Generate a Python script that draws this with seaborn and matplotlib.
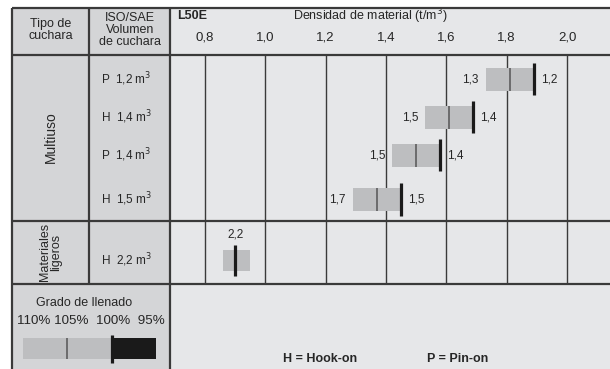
import matplotlib
matplotlib.use("Agg")
import matplotlib.pyplot as plt
import seaborn as sns
import pandas as pd
import numpy as np

# Data
buckets = ["P  1,2 m$^3$", "H  1,4 m$^3$", "P  1,4 m$^3$", "H  1,5 m$^3$", "H  2,2 m$^3$"]
dens_110 = [1.73, 1.53, 1.42, 1.29, 0.86]      # bar start (110 % fill)
dens_105 = [1.81, 1.61, 1.50, 1.37, np.nan]    # thin mark (105 % fill)
dens_100 = [1.89, 1.69, 1.58, 1.45, 0.90]      # thick mark (100 % fill)
bar_end = [1.89, 1.69, 1.58, 1.45, 0.95]
label_lo = ["1,3", "1,5", "1,5", "1,7", ""]
label_hi = ["1,2", "1,4", "1,4", "1,5", ""]
label_top = ["", "", "", "", "2,2"]
density_ticks = [0.8, 1.0, 1.2, 1.4, 1.6, 1.8, 2.0]
fill_pct = [110, 105, 100, 95]

df = pd.DataFrame({"bucket": buckets, "d110": dens_110, "d105": dens_105,
                   "d100": dens_100, "end": bar_end})

# Layout (pixels of the 610x369 picture)
W, H = 610, 369
row_y = [79.5, 117.5, 155.5, 199.5, 260.5]
bar_h = [22.5, 22.5, 22.5, 22.5, 20.7]
mark_h = [32, 32, 32, 32, 30.7]

dark_bg = "#d4d5d7"
light_bg = "#e6e7e9"
bar_col = "#bdbec0"
line_col = "#3a3a3a"

sns.set_style("white")
plt.rcParams["font.family"] = ["Liberation Sans", "DejaVu Sans"]

fig = plt.figure(figsize=(6.1, 3.69), dpi=100)

# table background / frame in pixel coordinates
bg = fig.add_axes([0, 0, 1, 1])
bg.set_xlim(0, W)
bg.set_ylim(H, 0)
bg.axis("off")
bg.add_patch(plt.Rectangle((12, 8), 158, H - 8, color=dark_bg, lw=0))
bg.add_patch(plt.Rectangle((170, 8), W - 170, H - 8, color=light_bg, lw=0))

def hline(y, x0=12, x1=W, lw=1.6):
    bg.plot([x0, x1], [y, y], color=line_col, lw=lw, solid_capstyle="butt", zorder=5)

def vline(x, y0, y1, lw=1.6):
    bg.plot([x, x], [y0, y1], color=line_col, lw=lw, solid_capstyle="butt", zorder=5)

hline(8)
hline(55)
hline(220.7)
hline(284)
vline(12, 8, H)
vline(89, 8, 284)
vline(170, 8, H)

fs = 9
bg.text(50.5, 30, "Tipo de\ncuchara", ha="center", va="center", fontsize=fs, linespacing=1.1)
bg.text(130, 30, "ISO/SAE\nVolumen\nde cuchara", ha="center", va="center", fontsize=fs, linespacing=0.95)
bg.text(177, 16, "L50E", ha="left", va="center", fontsize=fs, fontweight="bold")
bg.text(370, 16, "Densidad de material (t/m$^3$)", ha="center", va="center", fontsize=fs)
bg.text(50.5, 137, "Multiuso", ha="center", va="center", rotation=90, fontsize=10)
bg.text(50.5, 252, "Materiales\nligeros", ha="center", va="center", rotation=90, fontsize=9,
        linespacing=0.9)
for name, y in zip(buckets, row_y):
    bg.text(101, y, name, ha="left", va="center", fontsize=8.5)

bg.text(84, 303, "Grado de llenado", ha="center", va="center", fontsize=fs)
pct_text = f"{fill_pct[0]}% {fill_pct[1]}%  {fill_pct[2]}%  {fill_pct[3]}%"
bg.text(91, 321, pct_text, ha="center", va="center", fontsize=9.6)
bg.text(283, 359, "H = Hook-on", ha="left", va="center", fontsize=fs, fontweight="bold")
bg.text(427, 359, "P = Pin-on", ha="left", va="center", fontsize=fs, fontweight="bold")

# density chart area
ax = fig.add_axes([170 / W, 1 - 284 / H, (W - 170) / W, (284 - 55) / H])
ax.patch.set_alpha(0)
ax.set_xlim(0.684, 2.1425)
ax.set_ylim(284, 55)
ax.set_xticks(density_ticks)
ax.set_xticklabels([f"{t:.1f}".replace(".", ", ").replace(", ", ",") for t in density_ticks],
                   fontsize=9.5)
ax.xaxis.tick_top()
ax.tick_params(axis="x", length=0, pad=8)
ax.set_yticks([])
ax.grid(axis="x", color=line_col, lw=1.0)
ax.set_axisbelow(True)
for s in ax.spines.values():
    s.set_visible(False)

ax.barh(row_y, df["end"] - df["d110"], left=df["d110"], height=bar_h,
        color=bar_col, lw=0, zorder=3)
for i, r in df.iterrows():
    y = row_y[i]
    if not np.isnan(r["d105"]):
        ax.vlines(r["d105"], y - bar_h[i] / 2, y + bar_h[i] / 2, color="#555555", lw=1.1, zorder=4)
    ax.vlines(r["d100"], y - mark_h[i] / 2, y + mark_h[i] / 2, color="#1a1a1a", lw=2.3, zorder=5)
    if label_lo[i]:
        ax.annotate(label_lo[i], (r["d110"], y), xytext=(-5, 0), textcoords="offset points",
                    ha="right", va="center", fontsize=8.5)
    if label_hi[i]:
        ax.annotate(label_hi[i], (r["d100"], y), xytext=(5, 0), textcoords="offset points",
                    ha="left", va="center", fontsize=8.5)
    if label_top[i]:
        ax.annotate(label_top[i], (r["d100"], y - mark_h[i] / 2), xytext=(0, 3),
                    textcoords="offset points", ha="center", va="bottom", fontsize=8.5)

# fill-grade legend bar
lg = fig.add_axes([12 / W, 1 - 366 / H, 158 / W, 36 / H])
lg.patch.set_alpha(0)
lg.set_xlim(111.24, 93.42)
lg.set_ylim(366, 330)
lg.axis("off")
lg.barh([348.3], [fill_pct[2] - fill_pct[0]], left=fill_pct[0], height=20.7, color=bar_col, lw=0)
lg.barh([348.3], [fill_pct[3] - fill_pct[2]], left=fill_pct[2], height=20.7, color="#1a1a1a", lw=0)
lg.vlines(fill_pct[1], 338, 358.7, color="#555555", lw=1.1)
lg.vlines(fill_pct[2], 335, 362.7, color="#1a1a1a", lw=2.3)

fig.savefig("out.png", dpi=100)
